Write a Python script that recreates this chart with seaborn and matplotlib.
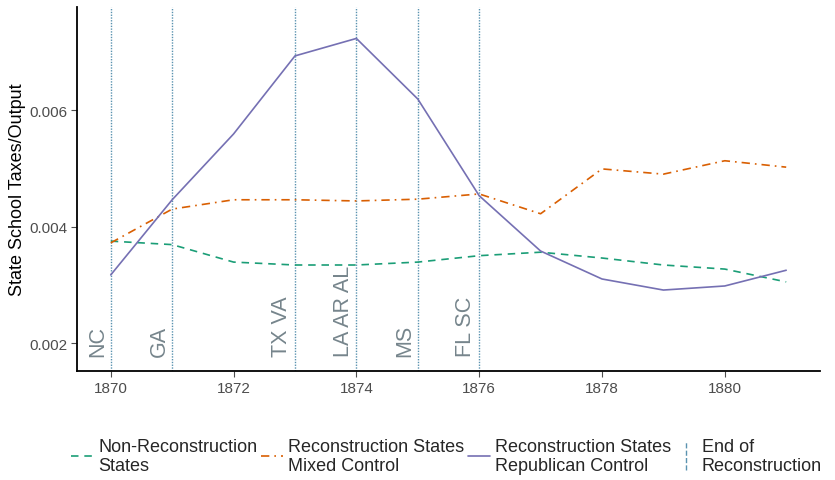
import matplotlib
matplotlib.use("Agg")
import matplotlib.pyplot as plt
from matplotlib.lines import Line2D
from matplotlib.legend_handler import HandlerBase
import numpy as np
import pandas as pd
import seaborn as sns

years = list(range(1870, 1882))
non_reconstruction = [0.00375, 0.00369, 0.00339, 0.00334, 0.00334, 0.00339,
                      0.00350, 0.00356, 0.00346, 0.00334, 0.00327, 0.00305]
mixed_control = [0.00372, 0.00430, 0.00446, 0.00446, 0.00444, 0.00447,
                 0.00456, 0.00422, 0.00499, 0.00490, 0.00513, 0.00502]
republican_control = [0.00317, 0.00446, 0.00559, 0.00693, 0.00723, 0.00619,
                      0.00453, 0.00358, 0.00310, 0.00291, 0.00298, 0.00325]

series_names = ["Non-Reconstruction\nStates",
                "Reconstruction States\nMixed Control",
                "Reconstruction States\nRepublican Control"]
series_colors = ["#1b9e77", "#d95f02", "#7570b3"]
series_dashes = [(4.5, 3.5), (5, 3, 1, 3), ""]

end_years = [1870, 1871, 1873, 1874, 1875, 1876]
end_states = ["NC", "GA", "TX VA", "LA AR AL", "MS", "FL SC"]
end_label = "End of\nReconstruction"

x_ticks = [1870, 1872, 1874, 1876, 1878, 1880]
y_ticks = [0.002, 0.004, 0.006]
y_ticklabels = ["0.002", "0.004", "0.006"]

df = pd.DataFrame({
    "year": years * 3,
    "value": non_reconstruction + mixed_control + republican_control,
    "group": sum([[n] * len(years) for n in series_names], []),
})

sns.set_style("white")
plt.rcParams["font.family"] = ["Liberation Sans", "DejaVu Sans"]

fig = plt.figure(figsize=(8.35, 4.81), dpi=100)
ax = fig.add_axes([0.0922, 0.2266, 0.8898, 0.7568])

vline_color = "#5a93b0"
for yr in end_years:
    ax.axvline(yr, color=vline_color, linestyle=(0, (1, 1)), linewidth=1.0, zorder=1)

sns.lineplot(data=df, x="year", y="value", hue="group", style="group",
             hue_order=series_names, style_order=series_names,
             palette=dict(zip(series_names, series_colors)),
             dashes=dict(zip(series_names, series_dashes)),
             linewidth=1.2, ax=ax, legend=False, zorder=3)

for yr, lab in zip(end_years, end_states):
    ax.annotate(lab, xy=(yr, 0.00178), xytext=(-2, 0), textcoords="offset points",
                rotation=90, ha="right", va="bottom", fontsize=15.5,
                color="#76858c", zorder=2)

ax.set_xlim(1869.45, 1881.55)
ax.set_ylim(0.00152, 0.00777)
ax.set_xticks(x_ticks)
ax.set_xticklabels([str(t) for t in x_ticks])
ax.set_yticks(y_ticks)
ax.set_yticklabels(y_ticklabels)
ax.tick_params(axis="both", labelsize=11, colors="#4d4d4d", length=4, width=0.8,
               direction="out", pad=3)
ax.tick_params(axis="both", bottom=True, left=True)
ax.set_xlabel("")
ax.set_ylabel("State School Taxes/Output", fontsize=13, color="black", labelpad=2)

for side in ["top", "right"]:
    ax.spines[side].set_visible(False)
for side in ["left", "bottom"]:
    ax.spines[side].set_color("black")
    ax.spines[side].set_linewidth(1.3)


class VerticalLineHandler(HandlerBase):
    def create_artists(self, legend, orig_handle, xdescent, ydescent, width,
                       height, fontsize, trans):
        x = width / 2 - xdescent
        line = Line2D([x, x], [-ydescent - height * 0.6, height * 1.6],
                      color=orig_handle.get_color(),
                      linestyle=orig_handle.get_linestyle(),
                      linewidth=orig_handle.get_linewidth())
        line.set_transform(trans)
        return [line]


handles = [Line2D([], [], color=c, linewidth=1.2,
                  linestyle=(0, d) if d else "-")
           for c, d in zip(series_colors, series_dashes)]
vhandle = Line2D([], [], color=vline_color, linestyle=(0, (1, 1)), linewidth=1.0)
handles.append(vhandle)
labels = series_names + [end_label]

fig.legend(handles, labels, loc="center", bbox_to_anchor=(0.535, 0.05),
           ncol=4, frameon=False, handlelength=1.2, handletextpad=0.3,
           columnspacing=0.2, fontsize=13,
           handler_map={vhandle: VerticalLineHandler()})

fig.savefig("out.png", dpi=100)
